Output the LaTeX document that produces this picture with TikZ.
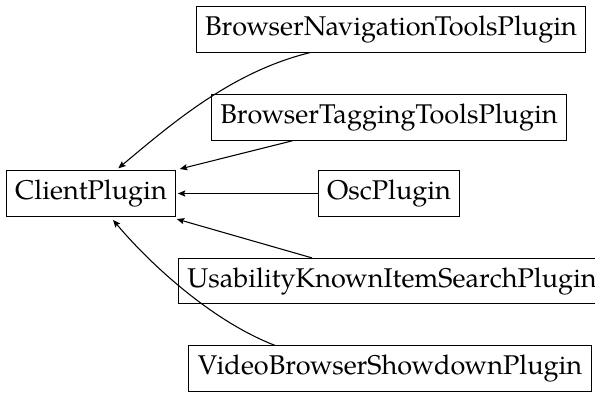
\documentclass[tikz,border=0pt]{standalone}
\usepackage{fontspec}
\setmainfont{TeX Gyre Pagella}
\usetikzlibrary{calc,arrows.meta}
\tikzset{
  plug/.style={draw, rectangle, inner sep=3.33pt, font=\fontsize{10.1}{12}\selectfont, line width=0.4pt},
  dep/.style={-{Stealth[length=2.8pt,width=2.3pt,inset=0.5pt]}, line width=0.4pt, shorten >=0.6pt}
}
\begin{document}
\begin{tikzpicture}[x=0.3731pt,y=-0.3731pt]
\useasboundingbox (0,0) rectangle (595,392);
\node[plug] (client) at (91,193.5) {ClientPlugin};
\node[plug] (nav) at (391,29.5) {BrowserNavigationToolsPlugin};
\node[plug] (tag) at (389,117.5) {BrowserTaggingToolsPlugin};
\node[plug] (osc) at (389,193.5) {OscPlugin};
\node[plug] (use) at (392,281) {UsabilityKnownItemSearchPlugin};
\node[plug] (video) at (390,368.5) {VideoBrowserShowdownPlugin};
\draw[dep] ($(nav.south)+(-81,0)$) .. controls +(-78,19) and +(55,-46) .. ($(client.north)+(26,-1)$);
\draw[dep] ($(tag.south)+(-96,0)$) -- ($(client.north east)+(2,-1)$);
\draw[dep] (osc.west) -- (osc.west -| client.east);
\draw[dep] ($(use.north)+(-80,0)$) -- ($(client.south east)+(-1,2)$);
\draw[dep] ($(video.north)+(-115,0)$) .. controls +(-65,-25) and +(35,42) .. ($(client.south)+(21,2)$);
\end{tikzpicture}
\end{document}
